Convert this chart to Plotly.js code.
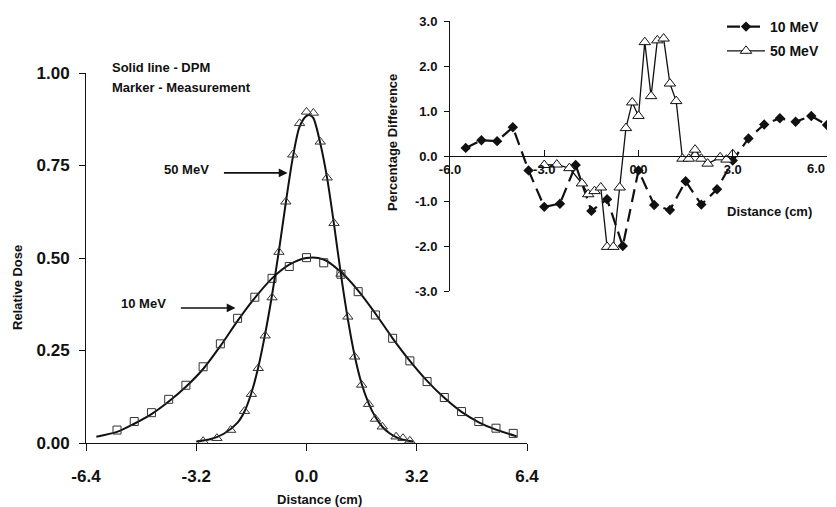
<!DOCTYPE html>
<html>
<head>
<meta charset="utf-8">
<script src="https://cdn.plot.ly/plotly-3.0.1.min.js"></script>
<style>html,body{margin:0;padding:0;background:#fff;}#chart{width:836px;height:507px;}</style>
</head>
<body>
<div id="chart"></div>
<script>
// ---- Main chart: Relative dose profiles ----
const meas10X = [-5.5,-5.0,-4.5,-4.0,-3.5,-3.0,-2.5,-2.0,-1.5,-1.0,-0.5,0.0,0.5,1.0,1.5,2.0,2.5,3.0,3.5,4.0,4.5,5.0,5.5,6.0];
const meas10Y = [0.035,0.058,0.082,0.118,0.156,0.206,0.268,0.337,0.394,0.445,0.477,0.501,0.487,0.456,0.409,0.346,0.283,0.222,0.166,0.123,0.085,0.058,0.040,0.026];
const dpm10X = [-6.1,-5.5,-5.0,-4.5,-4.0,-3.5,-3.0,-2.5,-2.0,-1.5,-1.0,-0.5,0.0,0.5,1.0,1.5,2.0,2.5,3.0,3.5,4.0,4.5,5.0,5.5,6.1];
const dpm10Y = [0.017,0.030,0.052,0.078,0.112,0.152,0.200,0.262,0.330,0.392,0.445,0.482,0.500,0.496,0.462,0.412,0.350,0.283,0.222,0.168,0.122,0.084,0.056,0.036,0.018];

const meas50X = [-3.0,-2.6,-2.2,-1.8,-1.6,-1.4,-1.2,-1.0,-0.8,-0.6,-0.4,-0.2,0.0,0.2,0.4,0.6,0.8,1.0,1.2,1.4,1.6,1.8,2.0,2.2,2.6,2.8,3.0];
const meas50Y = [0.005,0.013,0.035,0.086,0.132,0.202,0.290,0.393,0.516,0.652,0.779,0.864,0.895,0.892,0.814,0.717,0.594,0.457,0.341,0.233,0.157,0.105,0.065,0.044,0.017,0.013,0.006];
const dpm50X = [-3.2,-2.8,-2.4,-2.0,-1.8,-1.6,-1.4,-1.2,-1.0,-0.8,-0.6,-0.4,-0.2,0.0,0.1,0.2,0.4,0.6,0.8,1.0,1.2,1.4,1.6,1.8,2.0,2.2,2.4,2.6,2.8,3.1];
const dpm50Y = [0.004,0.010,0.025,0.055,0.085,0.135,0.205,0.295,0.400,0.520,0.650,0.770,0.855,0.884,0.886,0.878,0.810,0.715,0.590,0.455,0.335,0.235,0.160,0.108,0.070,0.044,0.027,0.016,0.009,0.004];

const mainXTicks = [-6.4,-3.2,0,3.2,6.4];
const mainXTickText = ["-6.4","-3.2","0.0","3.2","6.4"];
const mainYTicks = [0,0.25,0.5,0.75,1.0];
const mainYTickText = ["0.00","0.25","0.50","0.75","1.00"];

// ---- Inset: Percentage difference ----
const diff10X = [-5.5,-5.0,-4.5,-4.0,-3.5,-3.0,-2.5,-2.0,-1.5,-1.0,-0.5,0.0,0.5,1.0,1.5,2.0,2.5,3.0,3.5,4.0,4.5,5.0,5.5,6.0];
const diff10Y = [0.18,0.35,0.33,0.64,-0.32,-1.13,-1.06,-0.20,-1.22,-0.96,-2.00,-0.32,-1.09,-1.20,-0.56,-1.08,-0.74,-0.10,0.39,0.70,0.84,0.76,0.89,0.69];
const diff50X = [-3.0,-2.6,-2.2,-1.8,-1.6,-1.4,-1.2,-1.0,-0.8,-0.6,-0.4,-0.2,0.0,0.2,0.4,0.6,0.8,1.0,1.2,1.4,1.6,1.8,2.0,2.2,2.6,2.8,3.0];
const diff50Y = [-0.20,-0.19,-0.27,-0.61,-0.85,-0.78,-0.70,-2.02,-2.02,-0.70,0.62,1.19,0.89,2.53,1.33,2.57,2.61,1.61,1.22,-0.06,-0.06,0.14,-0.06,-0.17,-0.03,-0.08,0.04];

const insetXTicks = [-6,-3,0,3,6];
const insetXTickText = ["-6.0","-3.0","0.0","3.0",""];   // last label placed inside the edge below
const insetXLastLabel = "6.0";
const insetYTicks = [-3,-2,-1,0,1,2,3];
const insetYTickText = ["-3.0","-2.0","-1.0","0.0","1.0","2.0","3.0"];

const seriesNames = ["10 MeV","50 MeV"];

const W = 836, H = 507;
const px = v => v / W;
const py = v => 1 - v / H;
const ink = '#111';
const FONT = 'Liberation Sans, Arial, Helvetica, sans-serif';

const traces = [
  {x: dpm10X, y: dpm10Y, xaxis:'x', yaxis:'y', mode:'lines', line:{color:ink, width:2, shape:'spline', smoothing:0.8}, showlegend:false, hoverinfo:'skip'},
  {x: meas10X, y: meas10Y, xaxis:'x', yaxis:'y', mode:'markers', marker:{symbol:'square-open', size:8, color:'#333', line:{width:1}}, showlegend:false},
  {x: dpm50X, y: dpm50Y, xaxis:'x', yaxis:'y', mode:'lines', line:{color:ink, width:2, shape:'spline', smoothing:0.8}, showlegend:false, hoverinfo:'skip'},
  {x: meas50X, y: meas50Y, xaxis:'x', yaxis:'y', mode:'markers', marker:{symbol:'triangle-up-open', size:9, color:'#333', line:{width:1}}, showlegend:false},
  {x: diff10X, y: diff10Y, xaxis:'x2', yaxis:'y2', mode:'lines+markers', name: seriesNames[0], legendgroup:'a',
   line:{color:ink, width:2.2, dash:'13px,7px'}, marker:{symbol:'diamond', size:8, color:ink}},
  {x: diff50X, y: diff50Y, xaxis:'x2', yaxis:'y2', mode:'lines+markers', name: seriesNames[1], legendgroup:'b',
   line:{color:ink, width:1.3}, marker:{symbol:'triangle-up', size:10, color:'#fff', line:{color:ink, width:1}}}
];

const tickFontMain = {family: FONT, size: 17, color: ink, weight: 'bold'};
const tickFontInset = {family: FONT, size: 13, color: ink, weight: 'bold'};

const layout = {
  width: W, height: H,
  margin: {l:0, r:0, t:0, b:0},
  paper_bgcolor: '#fff',
  plot_bgcolor: 'rgba(0,0,0,0)',
  font: {family: FONT, color: ink, size: 13},
  showlegend: true,
  legend: {x: px(722), y: py(11), xanchor:'left', yanchor:'top', bgcolor:'rgba(0,0,0,0)',
           font:{family: FONT, size: 14, color: ink, weight:'bold'}, tracegroupgap: 3, itemwidth: 38},
  xaxis: {domain:[px(86), px(527)], range:[-6.4, 6.4], anchor:'y',
          tickvals: mainXTicks, ticktext: mainXTickText, tickfont: tickFontMain,
          showline:true, linecolor:ink, linewidth:1, ticks:'outside', ticklen:7, tickcolor:ink,
          showgrid:false, zeroline:false, ticklabelstandoff: 11},
  yaxis: {domain:[py(443), py(73)], range:[0, 1.0], anchor:'x',
          tickvals: mainYTicks, ticktext: mainYTickText, tickfont: tickFontMain,
          showline:true, linecolor:ink, linewidth:1, ticks:'outside', ticklen:6, tickcolor:ink,
          showgrid:false, zeroline:false, ticklabelstandoff: 6},
  xaxis2: {domain:[px(450), px(827)], range:[-6, 6], anchor:'free', position: py(156),
          tickvals: insetXTicks, ticktext: insetXTickText, tickfont: tickFontInset,
          showline:true, linecolor:ink, linewidth:1, ticks:'inside', ticklen:6, tickcolor:ink,
          showgrid:false, zeroline:false, ticklabelstandoff: 1},
  yaxis2: {domain:[py(291), py(21)], range:[-3, 3], anchor:'x2',
          tickvals: insetYTicks, ticktext: insetYTickText, tickfont: tickFontInset,
          showline:true, linecolor:ink, linewidth:1, ticks:'outside', ticklen:5, tickcolor:ink,
          showgrid:false, zeroline:false, ticklabelstandoff: 4},
  annotations: [
    {xref:'x2', yref:'paper', x: insetXTicks[4], y: py(169), xanchor:'right', yanchor:'middle', showarrow:false,
     text: insetXLastLabel, font: tickFontInset},
    {xref:'paper', yref:'paper', x: px(110), y: py(67), xanchor:'left', yanchor:'middle', showarrow:false,
     text:'Solid line - DPM', font:{size:13, weight:'bold'}},
    {xref:'paper', yref:'paper', x: px(110), y: py(87), xanchor:'left', yanchor:'middle', showarrow:false,
     text:'Marker - Measurement', font:{size:13, weight:'bold'}},
    {xref:'paper', yref:'paper', x: px(17), y: py(288), xanchor:'center', yanchor:'middle', showarrow:false,
     text:'Relative Dose', textangle:-90, font:{size:13, weight:'bold'}},
    {xref:'paper', yref:'paper', x: px(319), y: py(499), xanchor:'center', yanchor:'middle', showarrow:false,
     text:'Distance (cm)', font:{size:13, weight:'bold'}},
    {xref:'paper', yref:'paper', x: px(392), y: py(143), xanchor:'center', yanchor:'middle', showarrow:false,
     text:'Percentage Difference', textangle:-90, font:{size:13, weight:'bold'}},
    {xref:'paper', yref:'paper', x: px(769), y: py(211), xanchor:'center', yanchor:'middle', showarrow:false,
     text:'Distance (cm)', font:{size:13, weight:'bold'}},
    {xref:'x', yref:'y', x: -3.48, y: 0.74, showarrow:false, text: seriesNames[1], font:{size:13, weight:'bold'}},
    {xref:'x', yref:'y', axref:'x', ayref:'y', x: -0.55, y: 0.73, ax: -2.44, ay: 0.73, text:'', showarrow:true,
     arrowhead:2, arrowsize:1.1, arrowwidth:1.6, arrowcolor:ink},
    {xref:'x', yref:'y', x: -4.73, y: 0.376, showarrow:false, text: seriesNames[0], font:{size:13, weight:'bold'}},
    {xref:'x', yref:'y', axref:'x', ayref:'y', x: -2.06, y: 0.365, ax: -3.69, ay: 0.365, text:'', showarrow:true,
     arrowhead:2, arrowsize:1.1, arrowwidth:1.6, arrowcolor:ink}
  ]
};

Plotly.newPlot('chart', traces, layout, {staticPlot:true, displayModeBar:false});
</script>
</body>
</html>
